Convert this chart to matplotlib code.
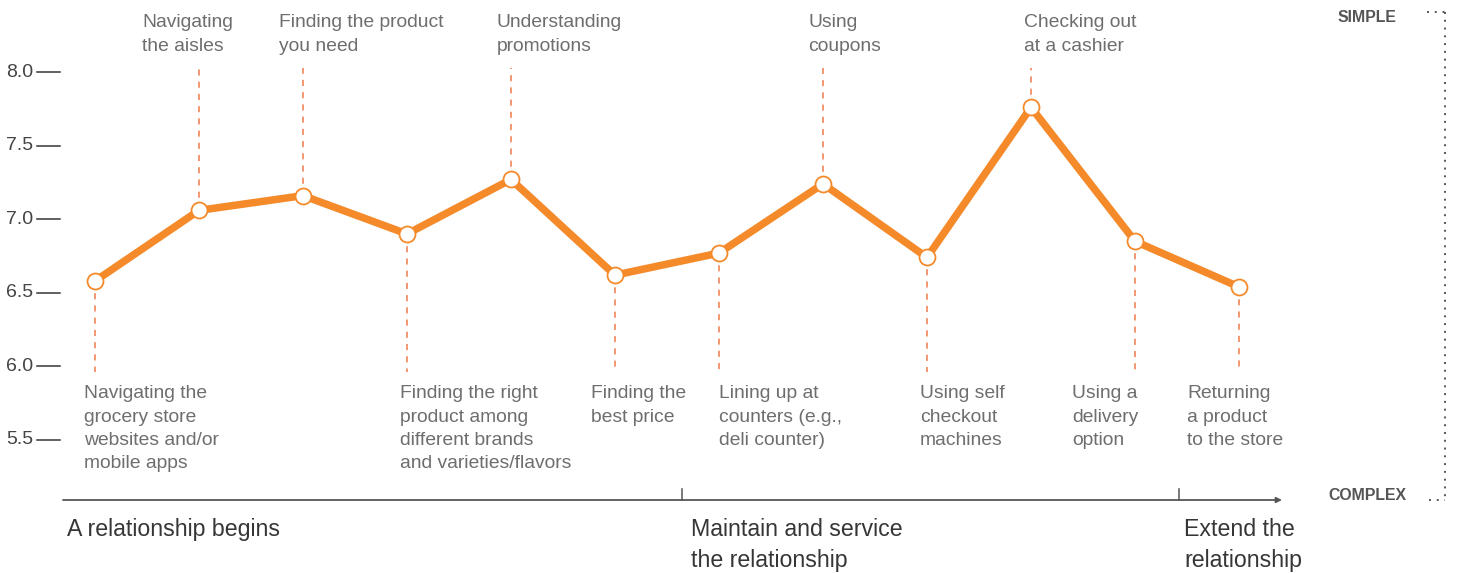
import matplotlib
matplotlib.use("Agg")
import matplotlib.pyplot as plt

# ---------------- data ----------------
steps = [
    "Navigating the\ngrocery store\nwebsites and/or\nmobile apps",
    "Navigating\nthe aisles",
    "Finding the product\nyou need",
    "Finding the right\nproduct among\ndifferent brands\nand varieties/flavors",
    "Understanding\npromotions",
    "Finding the\nbest price",
    "Lining up at\ncounters (e.g.,\ndeli counter)",
    "Using\ncoupons",
    "Using self\ncheckout\nmachines",
    "Checking out\nat a cashier",
    "Using a\ndelivery\noption",
    "Returning\na product\nto the store",
]
scores = [6.58, 7.06, 7.16, 6.90, 7.27, 6.62, 6.77, 7.24, 6.74, 7.76, 6.85, 6.54]
label_side = ["bottom", "top", "top", "bottom", "top", "bottom",
              "bottom", "top", "bottom", "top", "bottom", "bottom"]
y_ticks = [8.0, 7.5, 7.0, 6.5, 6.0, 5.5]
y_tick_labels = ["8.0", "7.5", "7.0", "6.5", "6.0", "5.5"]
stages = ["A relationship begins", "Maintain and service\nthe relationship",
          "Extend the\nrelationship"]

# ---------------- layout helpers (pixel mapping) ----------------
W, H = 1460, 573
X0, DX = 95.0, 104.0        # pixel of first step, spacing
Y8, PPU = 72.0, 147.2       # pixel of 8.0, pixels per unit


def px_x(p):
    return (p - X0) / DX


def px_y(p):
    return 8.0 - (p - Y8) / PPU


fig = plt.figure(figsize=(W / 100, H / 100), dpi=100)
ax = fig.add_axes([0, 0, 1, 1])
ax.set_xlim(px_x(0), px_x(W))
ax.set_ylim(px_y(H), px_y(0))
ax.axis("off")

ORANGE = "#f58a2b"
DROP = "#f07c4c"
GREY_TXT = "#6e6e6e"
DARK = "#363636"
FONT = "Liberation Sans"

xs = list(range(len(scores)))

# drop lines
for x, v, side in zip(xs, scores, label_side):
    end = px_y(68) if side == "top" else px_y(372)
    ax.plot([x, x], [v, end], color=DROP, lw=1.1, ls=(0, (4, 4)), zorder=1)

# main line
ax.plot(xs, scores, color=ORANGE, lw=5.4, solid_joinstyle="miter", zorder=3,
        marker="o", markersize=11.5, markerfacecolor="white",
        markeredgecolor=ORANGE, markeredgewidth=1.3)

# step labels
top_off = [0, -57, -24, 0, -14, 0, 0, -15, 0, -7, 0, 0]
bot_off = [-11, 0, 0, -7, 0, -24, 0, 0, -7, 0, -63, -52]
for x, lab, side, to, bo in zip(xs, steps, label_side, top_off, bot_off):
    if side == "top":
        ax.text(x + to / DX, px_y(14), lab, ha="left", va="top",
                fontsize=13.9, color=GREY_TXT, family=FONT, linespacing=1.5)
    else:
        ax.text(x + bo / DX, px_y(385), lab, ha="left", va="top",
                fontsize=13.9, color=GREY_TXT, family=FONT, linespacing=1.5)

# y ticks
for t, tl in zip(y_ticks, y_tick_labels):
    ax.plot([px_x(37), px_x(60)], [t, t], color=DARK, lw=1.1)
    ax.text(px_x(33), t, tl, ha="right", va="center", fontsize=14,
            color="#444444", family=FONT)

# bottom axis with arrow
ax.annotate("", xy=(px_x(1282), px_y(500)), xytext=(px_x(63), px_y(500)),
            arrowprops=dict(arrowstyle="-|>", color="#555555", lw=1.3,
                            mutation_scale=8, shrinkA=0, shrinkB=0))
for xb_px in (682, 1179):
    ax.plot([px_x(xb_px), px_x(xb_px)], [px_y(500), px_y(489)],
            color="#555555", lw=1.1)

stage_x = [67, 691, 1184]
for sx, s in zip(stage_x, stages):
    ax.text(px_x(sx), px_y(518), s, ha="left", va="top", fontsize=16.7,
            color=DARK, family=FONT, linespacing=1.42)

# SIMPLE / COMPLEX scale
ax.text(px_x(1367), px_y(17), "SIMPLE", ha="center", va="center", fontsize=11.4,
        color="#555555", family=FONT, fontweight="bold")
ax.text(px_x(1367), px_y(495), "COMPLEX", ha="center", va="center", fontsize=11.4,
        color="#555555", family=FONT, fontweight="bold")
ax.plot([px_x(1445), px_x(1445)], [px_y(12), px_y(500)], color="#555555",
        lw=1.4, ls=(0, (1, 3)))
ax.plot([px_x(1427), px_x(1445)], [px_y(12), px_y(12)], color="#555555",
        lw=1.4, ls=(0, (1, 3)))
ax.plot([px_x(1429), px_x(1445)], [px_y(500), px_y(500)], color="#555555",
        lw=1.4, ls=(0, (1, 3)))

fig.savefig("out.png", dpi=100, facecolor="white")
